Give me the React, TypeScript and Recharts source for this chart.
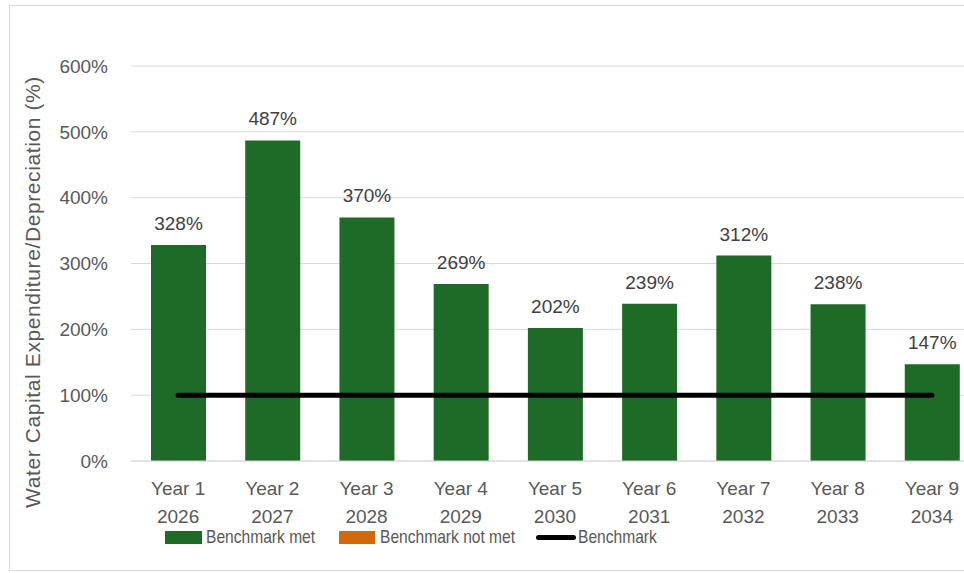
import { ComposedChart, Bar, Line, XAxis, YAxis, CartesianGrid, Cell, LabelList } from 'recharts';

const yearLabels = ['Year 1', 'Year 2', 'Year 3', 'Year 4', 'Year 5', 'Year 6', 'Year 7', 'Year 8', 'Year 9'];
const fiscalYears = ['2026', '2027', '2028', '2029', '2030', '2031', '2032', '2033', '2034'];
const ratioValues = [328, 487, 370, 269, 202, 239, 312, 238, 147];
const benchmarkValues = [100, 100, 100, 100, 100, 100, 100, 100, 100];
const yTicks = [0, 100, 200, 300, 400, 500, 600];

const MET = '#1e6b27';
const NOT_MET = '#d2690a';
const TEXT = '#595959';
const FONT = '"Liberation Sans", Arial, sans-serif';

const data = yearLabels.map((name, i) => ({
  name,
  year: fiscalYears[i],
  ratio: ratioValues[i],
  benchmark: benchmarkValues[i],
}));

function YearTick(props: any) {
  const { x, y, payload } = props;
  const i = payload.index;
  return (
    <g>
      <text x={x} y={y + 34} textAnchor="middle" fontSize={19} fill={TEXT} fontFamily={FONT}>
        {yearLabels[i]}
      </text>
      <text x={x} y={y + 62} textAnchor="middle" fontSize={19} fill={TEXT} fontFamily={FONT}>
        {fiscalYears[i]}
      </text>
    </g>
  );
}

function ValueLabel(props: any) {
  const { x, y, width, value } = props;
  return (
    <text x={x + width / 2} y={y - 15} textAnchor="middle" fontSize={19} fill="#404040" fontFamily={FONT}>
      {value}%
    </text>
  );
}

function AxisTitle() {
  return (
    <text
      transform="translate(30, 286) rotate(-90)"
      textAnchor="middle"
      fontSize={21}
      letterSpacing={0.6}
      fill={TEXT}
      fontFamily={FONT}
    >
      Water Capital Expenditure/Depreciation (%)
    </text>
  );
}

const legendText: React.CSSProperties = {
  position: 'absolute',
  top: 520,
  fontSize: 19,
  color: TEXT,
  fontFamily: FONT,
  lineHeight: '22px',
  whiteSpace: 'nowrap',
  transform: 'scaleX(0.82)',
  transformOrigin: 'left center',
};

export default function App() {
  return (
    <div style={{ position: 'fixed', left: 0, top: 0, width: 964, height: 573, overflow: 'hidden', background: '#fff' }}>
      <div
        style={{
          position: 'absolute',
          left: 9,
          top: 5,
          width: 1000,
          height: 564,
          border: '1px solid #d9d9d9',
          background: '#fff',
        }}
      >
        <ComposedChart
          width={1000}
          height={564}
          data={data}
          margin={{ top: 60, right: 31, left: 0, bottom: 39 }}
          barCategoryGap={0}
        >
          <CartesianGrid vertical={false} stroke="#d9d9d9" strokeWidth={1} />
          <XAxis
            dataKey="name"
            height={70}
            tick={<YearTick />}
            tickLine={false}
            tickSize={0}
            tickMargin={0}
            axisLine={{ stroke: '#d9d9d9' }}
            interval={0}
          />
          <YAxis
            width={121}
            domain={[0, 600]}
            ticks={yTicks}
            tickFormatter={(v: number) => `${v}%`}
            axisLine={false}
            tickLine={false}
            tickSize={0}
            tickMargin={23}
            tick={{ fontSize: 19, fill: TEXT, fontFamily: FONT }}
            label={<AxisTitle />}
          />
          <Bar dataKey="ratio" barSize={55} isAnimationActive={false}>
            {data.map((d, i) => (
              <Cell key={i} fill={d.ratio >= d.benchmark ? MET : NOT_MET} />
            ))}
            <LabelList dataKey="ratio" content={<ValueLabel />} />
          </Bar>
          <Line
            dataKey="benchmark"
            stroke="#000"
            strokeWidth={5}
            strokeLinecap="round"
            dot={false}
            activeDot={false}
            isAnimationActive={false}
          />
        </ComposedChart>
        <span style={{ position: 'absolute', left: 155, top: 525, width: 37, height: 13, background: MET }} />
        <span style={{ ...legendText, left: 196 }}>Benchmark met</span>
        <span style={{ position: 'absolute', left: 329, top: 525, width: 36, height: 13, background: NOT_MET }} />
        <span style={{ ...legendText, left: 370 }}>Benchmark not met</span>
        <span style={{ position: 'absolute', left: 526, top: 529, width: 40, height: 5, borderRadius: 3, background: '#000' }} />
        <span style={{ ...legendText, left: 568 }}>Benchmark</span>
      </div>
    </div>
  );
}
